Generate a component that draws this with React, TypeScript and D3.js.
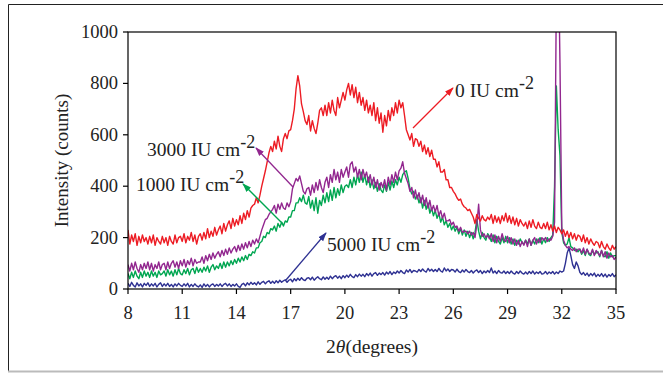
import React from "react";
import * as d3 from "d3";

// 2θ grid: 8.0 → 35.0 in 0.1° steps
const X_START = 8;
const X_STEP = 0.1;

// 0 IU cm-2
const red: number[] = [
  230, 175, 210, 185, 215, 170, 205, 180, 210, 185,
  200, 175, 205, 180, 210, 170, 200, 185, 175, 205,
  180, 200, 170, 205, 185, 175, 210, 180, 200, 205,
  185, 215, 180, 205, 190, 220, 185, 210, 175, 205,
  215, 190, 220, 195, 235, 200, 225, 205, 240, 210,
  230, 245, 215, 255, 225, 250, 265, 235, 275, 245,
  270, 250, 285, 255, 295, 270, 305, 280, 315, 325,
  330, 355, 335, 365, 400, 430, 460, 495, 530, 555,
  535, 575, 545, 595, 555, 535, 585, 605, 585, 615,
  620, 655, 700, 780, 830, 790, 720, 690, 655, 640,
  675, 615, 655, 625, 605, 645, 695, 705, 675, 715,
  675, 725, 685, 735, 695, 675, 745, 705, 735, 765,
  735, 775, 800, 755, 795, 745, 785, 725, 765, 715,
  745, 695, 735, 685, 715, 675, 725, 655, 705, 645,
  685, 610, 675, 635, 695, 655, 705, 675, 725, 685,
  735, 705, 725, 675, 620, 600, 580, 605, 555, 585,
  580, 555, 575, 535, 560, 525, 550, 515, 540, 505,
  505, 475, 495, 455, 455, 465, 425, 425, 395, 395,
  380, 370, 355, 345, 350, 330, 320, 315, 305, 310,
  295, 280, 255, 290, 275, 265, 285, 270, 265, 280,
  270, 290, 255, 285, 260, 280, 255, 285, 265, 295,
  260, 285, 255, 280, 250, 275, 245, 270, 255, 245,
  260, 235, 265, 240, 270, 245, 235, 260, 240, 235,
  255, 235, 260, 230, 250, 225, 245, 220, 240, 230,
  215, 230, 205, 225, 200, 220, 195, 215, 190, 210,
  205, 185, 210, 180, 200, 175, 195, 180, 170, 185,
  180, 160, 185, 165, 155, 175, 160, 150, 170, 155,
  165,
];

// 3000 IU cm-2
const purple: number[] = [
  95, 70, 100, 75, 105, 80, 65, 95, 75, 100,
  80, 105, 75, 100, 70, 95, 80, 105, 75, 95,
  100, 75, 105, 80, 100, 110, 85, 105, 80, 110,
  90, 115, 85, 110, 95, 120, 90, 115, 100, 105,
  105, 125, 100, 130, 110, 135, 115, 140, 120, 135,
  145, 125, 150, 130, 155, 135, 160, 140, 155, 165,
  145, 170, 150, 175, 155, 180, 160, 185, 165, 190,
  175, 195, 180, 205, 230, 250, 270, 275, 290, 300,
  310, 325, 295, 330, 310, 335, 315, 310, 335, 320,
  340, 390, 410, 430, 420, 440, 410, 380, 370, 390,
  395, 365, 405, 375, 415, 385, 425, 395, 375, 415,
  435, 395, 445, 415, 465, 425, 455, 415, 465, 435,
  455, 475, 435, 485, 495, 455, 475, 435, 465, 425,
  465, 435, 455, 415, 445, 405, 435, 395, 425, 385,
  415, 395, 425, 385, 435, 405, 445, 415, 455, 425,
  460, 470, 495, 450, 430, 410, 380, 395, 355, 385,
  350, 375, 335, 365, 325, 355, 315, 345, 305, 325,
  300, 325, 285, 305, 275, 295, 265, 265, 270, 250,
  260, 240, 245, 225, 240, 220, 225, 225, 215, 225,
  210, 220, 200, 250, 330, 230, 205, 215, 200, 210,
  195, 215, 185, 210, 180, 205, 185, 215, 190, 185,
  205, 180, 200, 175, 195, 170, 190, 165, 185, 170,
  190, 165, 195, 170, 190, 200, 175, 195, 180, 200,
  190, 200, 185, 195, 190, 205, 260, 1150, 1350, 880,
  240, 190, 170, 160, 165, 155, 150, 160, 145, 155,
  155, 140, 160, 135, 155, 140, 135, 155, 130, 150,
  140, 130, 150, 125, 145, 120, 140, 125, 130, 115,
  125,
];

// 1000 IU cm-2
const green: number[] = [
  60, 40, 65, 45, 70, 50, 40, 65, 45, 70,
  50, 65, 45, 70, 50, 65, 45, 70, 55, 60,
  70, 50, 75, 55, 70, 50, 75, 55, 80, 60,
  55, 75, 60, 80, 55, 75, 80, 60, 85, 65,
  80, 65, 85, 70, 90, 65, 85, 95, 75, 90,
  80, 100, 80, 105, 85, 105, 90, 110, 95, 115,
  100, 120, 105, 125, 110, 130, 115, 135, 130, 145,
  140, 160, 160, 180, 185, 205, 200, 220, 215, 235,
  230, 245, 225, 255, 240, 260, 245, 265, 260, 280,
  280, 305, 305, 335, 335, 355, 340, 365, 335, 330,
  360, 315, 345, 305, 355, 295, 345, 325, 365, 335,
  375, 340, 385, 345, 395, 355, 390, 365, 405, 375,
  400, 405, 395, 425, 395, 435, 405, 445, 415, 455,
  415, 445, 405, 435, 395, 425, 390, 415, 380, 410,
  385, 375, 405, 380, 415, 385, 420, 395, 425, 405,
  435, 415, 445, 455, 460, 430, 390, 370, 380, 350,
  365, 335, 355, 315, 345, 310, 335, 295, 315, 285,
  305, 275, 295, 260, 280, 250, 265, 240, 255, 230,
  245, 225, 240, 215, 235, 210, 230, 205, 225, 200,
  220, 195, 220, 270, 225, 195, 220, 200, 190, 215,
  205, 185, 210, 180, 205, 185, 175, 200, 180, 205,
  180, 200, 175, 195, 170, 190, 175, 195, 180, 175,
  190, 175, 195, 170, 190, 175, 195, 180, 200, 175,
  195, 180, 200, 185, 200, 210, 400, 790, 620, 520,
  220, 180, 170, 175, 200, 165, 160, 150, 155, 145,
  155, 135, 150, 130, 155, 135, 130, 150, 135, 140,
  145, 125, 150, 130, 125, 145, 120, 140, 125, 130,
  130,
];

// 5000 IU cm-2
const blue: number[] = [
  22, 10, 26, 14, 8, 24, 12, 20, 8, 22,
  14, 24, 10, 20, 12, 22, 8, 18, 24, 10,
  20, 12, 22, 10, 18, 8, 20, 12, 22, 14,
  10, 20, 12, 22, 8, 18, 10, 20, 12, 8,
  16, 6, 20, 10, 18, 8, 16, 20, 10, 18,
  12, 20, 10, 18, 22, 12, 20, 10, 18, 12,
  20, 10, 6, 18, 22, 12, 24, 16, 26, 18,
  24, 16, 28, 18, 26, 30, 20, 28, 32, 22,
  30, 22, 32, 24, 34, 26, 32, 36, 26, 34,
  38, 28, 40, 32, 42, 34, 44, 36, 33, 42,
  44, 36, 46, 34, 42, 48, 40, 36, 47, 38,
  46, 38, 50, 40, 48, 52, 42, 50, 40, 52,
  44, 54, 46, 57, 48, 44, 56, 48, 58, 50,
  57, 48, 60, 52, 62, 50, 60, 64, 53, 62,
  56, 64, 54, 66, 58, 68, 56, 66, 60, 70,
  62, 72, 64, 60, 74, 66, 76, 64, 72, 70,
  66, 76, 68, 78, 70, 66, 80, 70, 77, 68,
  76, 68, 80, 70, 66, 82, 70, 78, 68, 76,
  74, 66, 77, 68, 64, 74, 66, 76, 68, 64,
  72, 62, 70, 74, 64, 72, 60, 70, 63, 72,
  64, 82, 62, 70, 60, 72, 64, 62, 70, 60,
  68, 60, 70, 62, 58, 68, 60, 70, 62, 58,
  66, 58, 68, 60, 70, 58, 66, 60, 68, 58,
  60, 68, 58, 66, 60, 68, 58, 66, 60, 70,
  66, 70, 100, 140, 160, 130, 95, 80, 105, 90,
  65, 56, 64, 53, 62, 50, 60, 52, 62, 48,
  57, 50, 60, 48, 58, 46, 56, 50, 60, 48,
  55,
];

const xTicks = [8, 11, 14, 17, 20, 23, 26, 29, 32, 35];
const yTicks = [0, 200, 400, 600, 800, 1000];

const W = 663;
const H = 373;
const M = { left: 128, right: 616, top: 32, bottom: 289 };
const FONT = "'Liberation Serif', 'Times New Roman', Times, serif";

const C_RED = "#ED1C24";
const C_PURPLE = "#92278F";
const C_GREEN = "#00A651";
const C_BLUE = "#2E3192";

const x = d3.scaleLinear().domain([8, 35]).range([M.left, M.right]);
const y = d3.scaleLinear().domain([0, 1000]).range([M.bottom, M.top]);

const toPoints = (vals: number[]) =>
  vals.map((v, i) => [X_START + i * X_STEP, v] as [number, number]);

const line = d3
  .line<[number, number]>()
  .x((d) => x(d[0]))
  .y((d) => y(d[1]));

const series = [
  { name: "blue", values: blue, color: C_BLUE },
  { name: "green", values: green, color: C_GREEN },
  { name: "purple", values: purple, color: C_PURPLE },
  { name: "red", values: red, color: C_RED },
];

// Callout labels and their pointer arrows (tail → head, in pixels)
const callouts = [
  { text: "0 IU cm", tx: 455, ty: 97, color: C_RED, from: [413, 128], to: [453, 88] },
  { text: "3000 IU cm", tx: 147, ty: 156, color: C_PURPLE, from: [293, 187], to: [256, 148] },
  { text: "1000 IU cm", tx: 136, ty: 191, color: C_GREEN, from: [283, 224], to: [243, 184] },
  { text: "5000 IU cm", tx: 327, ty: 251, color: C_BLUE, from: [286, 280], to: [326, 233] },
];

export default function App() {
  return (
    <svg
      width={W}
      height={H}
      style={{ position: "absolute", left: 0, top: 0, background: "#fff", fontFamily: FONT }}
    >
      <defs>
        <clipPath id="plot-clip">
          <rect x={M.left} y={M.top} width={M.right - M.left} height={M.bottom - M.top} />
        </clipPath>
        {callouts.map((c, i) => (
          <marker
            key={i}
            id={`arrow-${i}`}
            viewBox="0 0 10 10"
            refX="9"
            refY="5"
            markerWidth="9"
            markerHeight="9"
            markerUnits="userSpaceOnUse"
            orient="auto"
          >
            <path d="M0,1.5 L10,5 L0,8.5 Z" fill={c.color} />
          </marker>
        ))}
      </defs>

      {/* outer frame */}
      <line x1={8.5} y1={4.5} x2={W} y2={4.5} stroke="#222" strokeWidth={1} />
      <line x1={8.5} y1={4.5} x2={8.5} y2={371} stroke="#222" strokeWidth={1} />
      <line x1={8} y1={371.5} x2={W} y2={371.5} stroke="#bbb" strokeWidth={2} />

      {/* data */}
      <g clipPath="url(#plot-clip)">
        {series.map((s) => (
          <path
            key={s.name}
            d={line(toPoints(s.values)) || ""}
            fill="none"
            stroke={s.color}
            strokeWidth={1.4}
            strokeLinejoin="round"
          />
        ))}
      </g>

      {/* plot box */}
      <rect
        x={M.left}
        y={M.top}
        width={M.right - M.left}
        height={M.bottom - M.top}
        fill="none"
        stroke="#000"
        strokeWidth={1.2}
      />

      {/* y axis ticks */}
      {yTicks.map((t) => (
        <g key={`y${t}`}>
          <line x1={M.left - 5} x2={M.left} y1={y(t)} y2={y(t)} stroke="#000" strokeWidth={1.2} />
          <text x={M.left - 10} y={y(t) + 6} textAnchor="end" fontSize={18.5} fill="#222">
            {t}
          </text>
        </g>
      ))}

      {/* x axis ticks */}
      {xTicks.map((t) => (
        <g key={`x${t}`}>
          <line x1={x(t)} x2={x(t)} y1={M.bottom} y2={M.bottom + 5} stroke="#000" strokeWidth={1.2} />
          <text x={x(t)} y={M.bottom + 30} textAnchor="middle" fontSize={18.5} fill="#222">
            {t}
          </text>
        </g>
      ))}

      {/* axis titles */}
      <text x={372} y={353} textAnchor="middle" fontSize={19.5} fill="#222">
        2<tspan fontStyle="italic">θ</tspan>(degrees)
      </text>
      <text
        transform={`translate(68,${(M.top + M.bottom) / 2}) rotate(-90)`}
        textAnchor="middle"
        fontSize={19}
        fill="#222"
      >
        Intensity (counts)
      </text>

      {/* callouts */}
      {callouts.map((c, i) => (
        <g key={`c${i}`}>
          <line
            x1={c.from[0]}
            y1={c.from[1]}
            x2={c.to[0]}
            y2={c.to[1]}
            stroke={c.color}
            strokeWidth={1.3}
            markerEnd={`url(#arrow-${i})`}
          />
          <text x={c.tx} y={c.ty} fontSize={19.5} fill="#222">
            {c.text}
            <tspan dy={-8} fontSize={18}>
              -2
            </tspan>
          </text>
        </g>
      ))}
    </svg>
  );
}
